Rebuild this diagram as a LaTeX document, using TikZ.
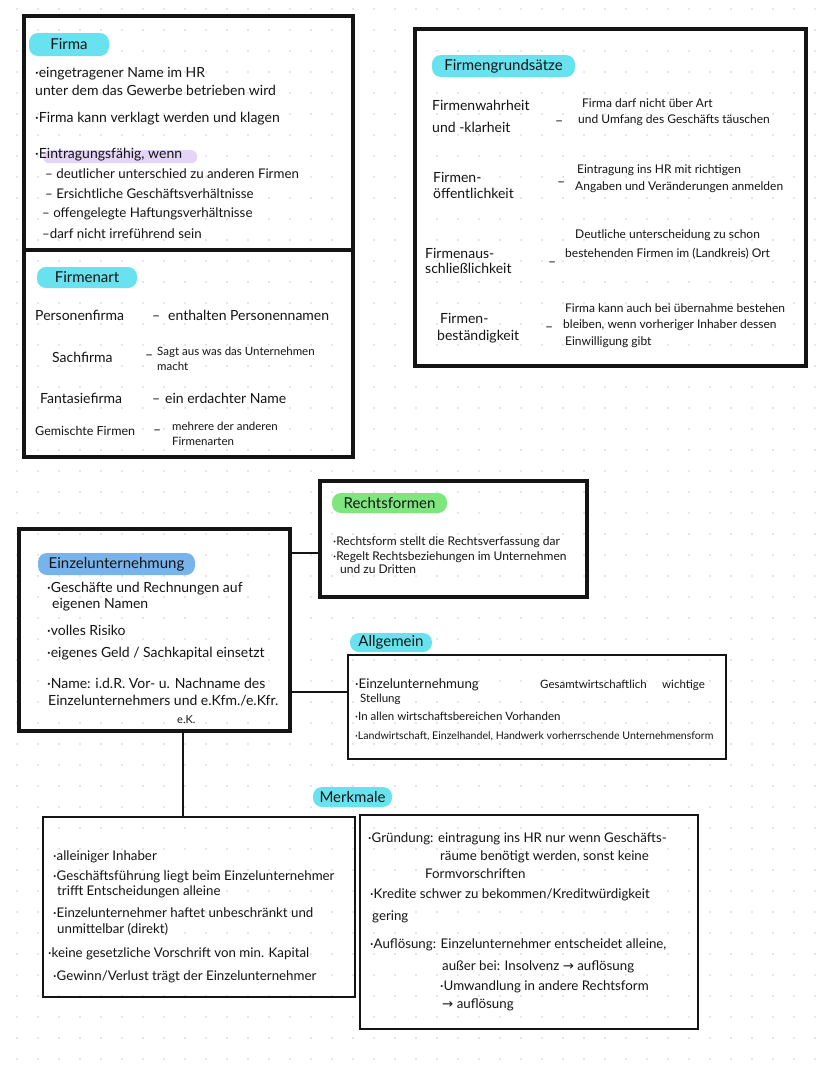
\documentclass[tikz,border=0pt]{standalone}
\usepackage{fontspec}
\setmainfont{Lato}
\newfontfamily\symf{DejaVu Sans}
\definecolor{ink}{RGB}{20,20,20}
\definecolor{dotc}{RGB}{205,205,205}
\definecolor{cyanp}{RGB}{104,226,238}
\definecolor{greenp}{RGB}{125,230,125}
\definecolor{bluep}{RGB}{120,180,235}
\definecolor{purplep}{RGB}{228,212,246}
\newcommand{\fs}[1]{\fontsize{#1}{#1}\selectfont}
\begin{document}
\begin{tikzpicture}[x=1pt,y=-1pt,
  thickbox/.style={draw=ink, line width=3.2pt, anchor=north west, inner sep=0pt, outer sep=0pt},
  thinbox/.style={draw=ink, line width=1.4pt, anchor=north west, inner sep=0pt, outer sep=0pt},
  pill/.style={rounded corners=9pt, anchor=north west, inner sep=0pt, outer sep=0pt, text=ink, font=\fs{15}},
  tx/.style={anchor=base west, inner sep=0pt, text=ink},
  conn/.style={draw=ink, line width=1.4pt},
  fA/.style={font=\fs{14}},
  fB/.style={font=\fs{12.5}},
  fBB/.style={font=\fs{13.3}},
  fC/.style={font=\fs{12}},
  fD/.style={font=\fs{11.5}},
  fE/.style={font=\fs{11}},
  fF/.style={font=\fs{10.6}}
]
\useasboundingbox (0,0) rectangle (828,1069);
\fill[white] (0,0) rectangle (828,1069);
\foreach \i in {0,...,39}{\foreach \j in {0,...,50}{\fill[dotc] (17+21*\i,9+21*\j) circle (0.9pt);}}

% ---------- boxes ----------
\node[thickbox, minimum width=329pt, minimum height=234pt] (firma) at (24,16) {};
\node[thickbox, minimum width=329pt, minimum height=207pt] (firmenart) at (24,250) {};
\node[thickbox, minimum width=391pt, minimum height=337pt] (grund) at (415,29) {};
\node[thickbox, minimum width=267pt, minimum height=116pt] (rechts) at (320,481) {};
\node[thickbox, minimum width=271pt, minimum height=202pt] (einzel) at (19,529) {};
\node[thinbox, minimum width=378pt, minimum height=104pt] (allg) at (348,655) {};
\node[thinbox, minimum width=312pt, minimum height=180pt] (merkL) at (43,817) {};
\node[thinbox, minimum width=338pt, minimum height=214pt] (merkR) at (360,815) {};

% ---------- pills ----------
\node[pill, fill=cyanp, minimum width=80pt, minimum height=23pt] (pFirma) at (29,33) {Firma};
\node[fill=purplep, anchor=north west, inner sep=0pt, minimum width=154pt, minimum height=13pt, rounded corners=6pt] (hlEin) at (43,150) {};
\node[pill, fill=cyanp, minimum width=100pt, minimum height=21pt] (pArt) at (37,267) {Firmenart};
\node[pill, fill=cyanp, minimum width=143pt, minimum height=22pt] (pGrund) at (432,55) {Firmengrundsätze};
\node[pill, fill=greenp, minimum width=115pt, minimum height=20pt] (pRechts) at (332,493) {Rechtsformen};
\node[pill, fill=bluep, minimum width=157pt, minimum height=22pt] (pEinzel) at (38,553) {Einzelunternehmung};
\node[pill, fill=cyanp, minimum width=82pt, minimum height=19pt] (pAllg) at (350,633) {Allgemein};
\node[pill, fill=cyanp, minimum width=79pt, minimum height=20pt] (pMerk) at (313,787) {Merkmale};

% ---------- Firma ----------
\node[tx,fA] (fi1) at (35,77) {·eingetragener Name im HR};
\node[tx,fA] (fi2) at (35,95) {unter dem das Gewerbe betrieben wird};
\node[tx,fA] (fi3) at (35,122) {·Firma kann verklagt werden und klagen};
\node[tx,fA] (fi4) at (35,158) {·Eintragungsfähig, wenn};
\node[tx,fBB] (fi5) at (45,178) {– deutlicher unterschied zu anderen Firmen};
\node[tx,fBB] (fi6) at (45,198) {– Ersichtliche Geschäftsverhältnisse};
\node[tx,fBB] (fi7) at (42,217) {– offengelegte Haftungsverhältnisse};
\node[tx,fBB] (fi8) at (42,238) {–darf nicht irreführend sein};

% ---------- Firmenart ----------
\node[tx,fA] (fa1) at (35,320) {Personenfirma};
\node[tx,fA] (fa1d) at (152,320) {–};
\node[tx,fA] (fa1r) at (168,320) {enthalten Personennamen};
\node[tx,fA] (fa2) at (52,362) {Sachfirma};
\node[tx,fA] (fa2d) at (145,359) {–};
\node[tx,fD] (fa2r) at (157,355) {Sagt aus was das Unternehmen};
\node[tx,fD] (fa2s) at (157,370) {macht};
\node[tx,fA] (fa3) at (40,403) {Fantasiefirma};
\node[tx,fA] (fa3d) at (152,403) {–};
\node[tx,fA] (fa3r) at (165,403) {ein erdachter Name};
\node[tx,fB] (fa4) at (35,435) {Gemischte Firmen};
\node[tx,fA] (fa4d) at (153,434) {–};
\node[tx,fD] (fa4r) at (172,430) {mehrere der anderen};
\node[tx,fD] (fa4s) at (172,445) {Firmenarten};

% ---------- Firmengrundsaetze ----------
\node[tx,fA] (g1) at (432,110) {Firmenwahrheit};
\node[tx,fA] (g1b) at (432,132) {und -klarheit};
\node[tx,fA] (g1d) at (555,125) {–};
\node[tx,fC] (g1r) at (582,107) {Firma darf nicht über Art};
\node[tx,fC] (g1s) at (578,123) {und Umfang des Geschäfts täuschen};
\node[tx,fA] (g2) at (433,182) {Firmen-};
\node[tx,fA] (g2b) at (433,198) {öffentlichkeit};
\node[tx,fA] (g2d) at (557,186) {–};
\node[tx,fC] (g2r) at (577,173) {Eintragung ins HR mit richtigen};
\node[tx,fC] (g2s) at (575,190) {Angaben und Veränderungen anmelden};
\node[tx,fA] (g3) at (425,258) {Firmenaus-};
\node[tx,fA] (g3b) at (425,273) {schließlichkeit};
\node[tx,fA] (g3d) at (548,266) {–};
\node[tx,fC] (g3r) at (575,238) {Deutliche unterscheidung zu schon};
\node[tx,fC] (g3s) at (565,257) {bestehenden Firmen im (Landkreis) Ort};
\node[tx,fA] (g4) at (440,323) {Firmen-};
\node[tx,fA] (g4b) at (437,340) {beständigkeit};
\node[tx,fA] (g4d) at (545,331) {–};
\node[tx,fC] (g4r) at (565,312) {Firma kann auch bei übernahme bestehen};
\node[tx,fC] (g4s) at (563,328) {bleiben, wenn vorheriger Inhaber dessen};
\node[tx,fC] (g4t) at (565,345) {Einwilligung gibt};

% ---------- Rechtsformen ----------
\node[tx,fC] (r1) at (333,545) {·Rechtsform stellt die Rechtsverfassung dar};
\node[tx,fC] (r2) at (333,560) {·Regelt Rechtsbeziehungen im Unternehmen};
\node[tx,fC] (r3) at (340,573) {und zu Dritten};

% ---------- Einzelunternehmung ----------
\node[tx,fA] (e1) at (47,592) {·Geschäfte und Rechnungen auf};
\node[tx,fA] (e1b) at (52,608) {eigenen Namen};
\node[tx,fA] (e2) at (47,635) {·volles Risiko};
\node[tx,fA] (e3) at (47,657) {·eigenes Geld / Sachkapital einsetzt};
\node[tx,fA] (e4) at (47,688) {·Name: i.d.R. Vor- u. Nachname des};
\node[tx,fA] (e4b) at (48,705) {Einzelunternehmers und e.Kfm./e.Kfr.};
\node[tx,fE] (e4c) at (177,723) {e.K.};

% ---------- Allgemein ----------
\node[tx,fBB] (a1) at (355,688) {·Einzelunternehmung};
\node[tx,fD] (a1b) at (540,688) {Gesamtwirtschaftlich};
\node[tx,fD] (a1c) at (662,688) {wichtige};
\node[tx,fD] (a1d) at (360,702) {Stellung};
\node[tx,fD] (a2) at (355,720) {·In allen wirtschaftsbereichen Vorhanden};
\node[tx,fF] (a3) at (355,739) {·Landwirtschaft, Einzelhandel, Handwerk vorherrschende Unternehmensform};

% ---------- Merkmale links ----------
\node[tx,fBB] (m1) at (53,860) {·alleiniger Inhaber};
\node[tx,fBB] (m2) at (53,880) {·Geschäftsführung liegt beim Einzelunternehmer};
\node[tx,fBB] (m2b) at (57,895) {trifft Entscheidungen alleine};
\node[tx,fBB] (m3) at (53,917) {·Einzelunternehmer haftet unbeschränkt und};
\node[tx,fBB] (m3b) at (57,933) {unmittelbar (direkt)};
\node[tx,fBB] (m4) at (48,957) {·keine gesetzliche Vorschrift von min. Kapital};
\node[tx,fBB] (m5) at (53,980) {·Gewinn/Verlust trägt der Einzelunternehmer};

% ---------- Merkmale rechts ----------
\node[tx,fBB] (n1) at (368,842) {·Gründung: eintragung ins HR nur wenn Geschäfts-};
\node[tx,fBB] (n1b) at (440,860) {räume benötigt werden, sonst keine};
\node[tx,fBB] (n1c) at (425,878) {Formvorschriften};
\node[tx,fBB] (n2) at (370,898) {·Kredite schwer zu bekommen/Kreditwürdigkeit};
\node[tx,fBB] (n2b) at (372,920) {gering};
\node[tx,fBB] (n3) at (370,948) {·Auflösung: Einzelunternehmer entscheidet alleine,};
\node[tx,fBB] (n3b) at (442,970) {außer bei: Insolvenz {\symf→} auflösung};
\node[tx,fBB] (n3c) at (440,990) {·Umwandlung in andere Rechtsform};
\node[tx,fBB] (n3d) at (442,1008) {{\symf→} auflösung};

% ---------- connectors ----------
\coordinate (cR) at (rechts.west |- 0,553);
\coordinate (cA) at (allg.west |- 0,692);
\coordinate (cM) at (merkL.north -| 183,0);
\draw[conn] (einzel.east |- cR) -- (cR);
\draw[conn] (einzel.east |- cA) -- (cA);
\draw[conn] (einzel.south -| cM) -- (cM);
\end{tikzpicture}
\end{document}
